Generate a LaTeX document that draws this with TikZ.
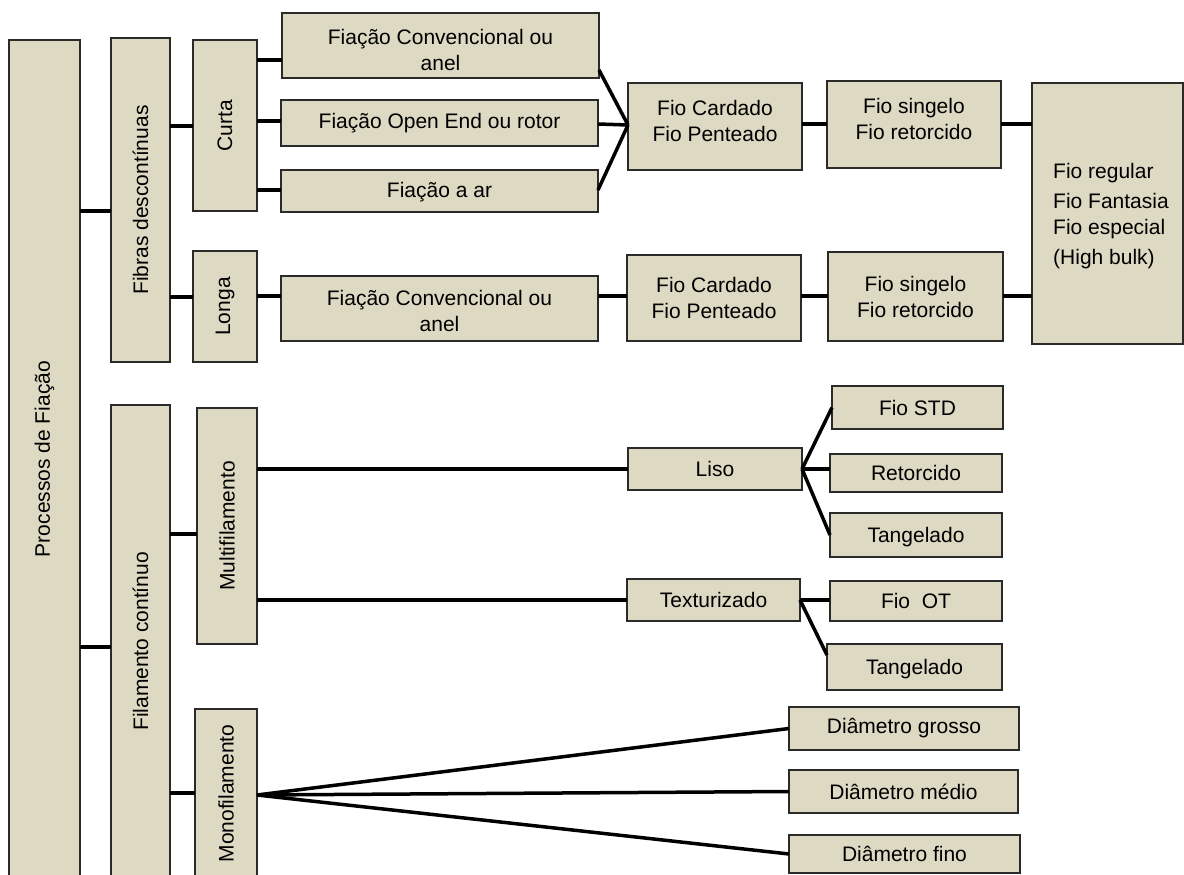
\documentclass[tikz,border=0pt]{standalone}
\usepackage{fontspec}
\setmainfont{Liberation Sans}
\definecolor{boxfill}{HTML}{DDD9C3}
\definecolor{boxline}{HTML}{2A2A2A}
% \pbox[yshift]{name}{x1}{y1}{x2}{y2}{text}: box given by its corners, text centred
\newcommand\pbox[7][0pt]{%
  \node[box, minimum width={(#5-#3)*1pt}, minimum height={(#6-#4)*1pt}]
    (#2) at ({(#3+#5)/2},{(#4+#6)/2}) {};
  \node[txt, yshift=#1] (#2-t) at (#2) {#7};}
% \vpbox{name}{x1}{y1}{x2}{y2}{text}: same, text turned upwards
\newcommand\vpbox[6]{%
  \node[box, minimum width={(#4-#2)*1pt}, minimum height={(#5-#3)*1pt}]
    (#1) at ({(#2+#4)/2},{(#3+#5)/2}) {};
  \node[txt, rotate=90] (#1-t) at (#1) {#6};}
\begin{document}
\begin{tikzpicture}[x=1pt,y=-1pt,
  box/.style={rectangle, draw=boxline, line width=1.1pt, fill=boxfill,
    inner sep=0pt, outer sep=0pt},
  txt/.style={font=\fontsize{21}{26}\selectfont, align=center, inner sep=0pt,
    text=black},
  conn/.style={line width=3.5pt, draw=black}]
\clip (0,0) rectangle (1184,875);
\fill[white] (0,0) rectangle (1184,875);

% left columns
\vpbox{proc}{9}{40}{80}{878}{Processos de Fiação}
\vpbox{fibras}{111}{38}{170}{362}{Fibras descontínuas}
\vpbox{fil}{111}{405}{170}{878}{Filamento contínuo}
\vpbox{curta}{193}{40}{257}{211}{Curta}
\vpbox{longa}{193}{251}{257}{362}{Longa}
\vpbox{multi}{197}{408}{257}{644}{Multifilamento}
\vpbox{mono}{195}{709}{257}{878}{Monofilamento}

% staple fibre branch
\pbox[-4pt]{conv}{282}{13}{599}{78}{Fiação Convencional ou\\anel}
\pbox{open}{281}{100}{598}{146}{Fiação Open End ou rotor}
\pbox[-1pt]{ar}{281}{170}{598}{212}{Fiação a ar}
\pbox[-2pt]{convb}{281}{276}{598}{341}{Fiação Convencional ou\\anel}
\pbox[6pt]{card}{628}{83}{802}{170}{Fio Cardado\\Fio Penteado}
\pbox[6pt]{sing}{827}{81}{1001}{168}{Fio singelo\\Fio retorcido}
\pbox{cardb}{627}{255}{801}{341}{Fio Cardado\\Fio Penteado}
\pbox{singb}{828}{252}{1003}{341}{Fio singelo\\Fio retorcido}
\node[box, minimum width=151pt, minimum height=261pt] (fim) at (1107.5,213.5) {};
\node[txt, align=left, anchor=west] (fim-t) at (1053,216)
  {Fio regular\\[4pt]Fio Fantasia\\Fio especial\\[4pt](High bulk)};

% continuous filament branch
\pbox{liso}{628}{448}{802}{490}{Liso}
\pbox{std}{832}{386}{1003}{429}{Fio STD}
\pbox{ret}{830}{454}{1002}{492}{Retorcido}
\pbox[-2pt]{tang}{830}{513}{1002}{557}{Tangelado}
\pbox{tex}{627}{579}{800}{621}{Texturizado}
\pbox{ot}{830}{581}{1002}{621}{Fio\ \ OT}
\pbox[-2pt]{tangb}{827}{644}{1002}{690}{Tangelado}
\pbox{gros}{789}{707}{1019}{750}{Diâmetro grosso}
\pbox{med}{789}{770}{1018}{813}{Diâmetro médio}
\pbox{fino}{789}{835}{1020}{873}{Diâmetro fino}

% connectors
\draw[conn] (proc.east |- 0,211) -- (fibras.west |- 0,211);
\draw[conn] (proc.east |- 0,647) -- (fil.west |- 0,647);
\draw[conn] (fibras.east |- 0,126) -- (curta.west |- 0,126);
\draw[conn] (fibras.east |- 0,297) -- (longa.west |- 0,297);
\draw[conn] (fil.east |- 0,534) -- (multi.west |- 0,534);
\draw[conn] (fil.east |- 0,793) -- (mono.west |- 0,793);

\draw[conn] (curta.east |- 0,60) -- (conv.west |- 0,60);
\draw[conn] (curta.east |- 0,121) -- (open.west |- 0,121);
\draw[conn] (curta.east |- 0,190) -- (ar.west |- 0,190);
\draw[conn] (longa.east |- 0,296) -- (convb.west |- 0,296);

\coordinate (join) at (card.west |- 0,125);
\draw[conn] (conv.east |- 0,70) -- (join);
\draw[conn] (open.east |- 0,124) -- (join);
\draw[conn] (ar.east |- 0,190) -- (join);
\draw[conn] (card.east |- 0,124) -- (sing.west |- 0,124);
\draw[conn] (sing.east |- 0,124) -- (fim.west |- 0,124);
\draw[conn] (convb.east |- 0,296) -- (cardb.west |- 0,296);
\draw[conn] (cardb.east |- 0,296) -- (singb.west |- 0,296);
\draw[conn] (singb.east |- 0,296) -- (fim.west |- 0,296);

\draw[conn] (multi.east |- liso.west) -- (liso.west);
\draw[conn] (multi.east |- tex.west) -- (tex.west);
\draw[conn] (liso.east) -- (std.west);
\draw[conn] (liso.east) -- (ret.west |- liso.east);
\draw[conn] (liso.east) -- (tang.west);
\draw[conn] (tex.east) -- (ot.west |- tex.east);
\draw[conn] (tex.east) -- (tangb.west |- 0,655);

\coordinate (fan) at (mono.east |- 0,795);
\draw[conn] (fan) -- (gros.west);
\draw[conn] (fan) -- (med.west);
\draw[conn] (fan) -- (fino.west);
\end{tikzpicture}
\end{document}
